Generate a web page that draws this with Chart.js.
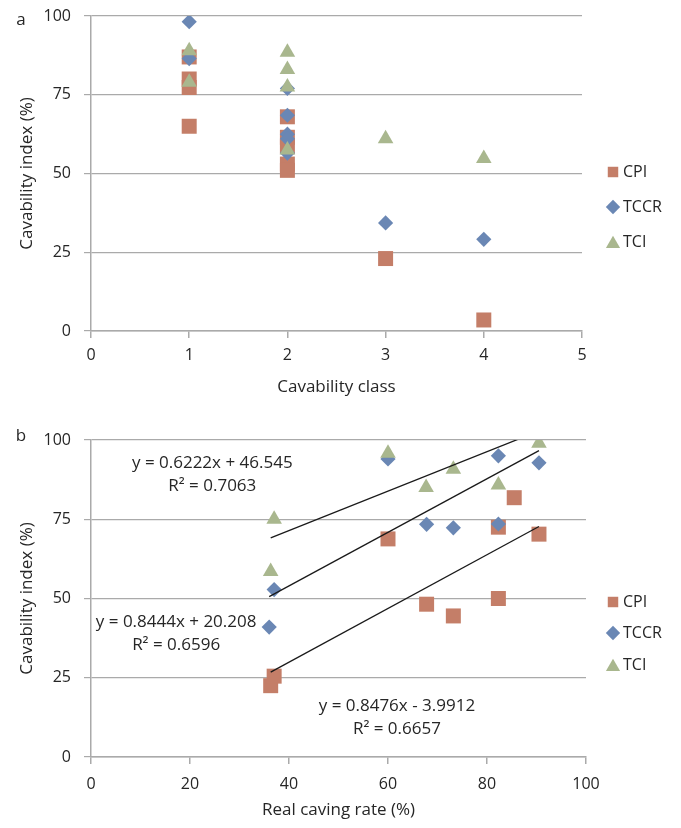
<!DOCTYPE html>
<html>
<head>
<meta charset="utf-8">
<script src="https://cdn.jsdelivr.net/npm/chart.js@4.4.1/dist/chart.umd.min.js"></script>
<style>
  html, body { margin: 0; padding: 0; background: #fff; }
  .panel { position: absolute; left: 0; width: 681px; height: 414px; }
  #panelA { top: 0; }
  #panelB { top: 414px; }
</style>
</head>
<body>
<div class="panel" id="panelA"><canvas id="chartA" width="681" height="414"></canvas></div>
<div class="panel" id="panelB"><canvas id="chartB" width="681" height="414"></canvas></div>
<script>
// series (same order in both panels)
const seriesNames = ['CPI', 'TCCR', 'TCI'];
const seriesColors = ['#c47e68', '#6a87b4', '#a9b78e'];
const seriesMarkers = ['rect', 'rectRot', 'triangle'];

// panel a - cavability class vs cavability index
const classCpiX = [1, 1, 1, 1, 2, 2, 2, 2, 2, 3, 4];
const classCpiY = [87, 80, 77.3, 65, 68, 61.5, 58.5, 53, 51, 23, 3.5];
const classTccrX = [1, 1, 2, 2, 2, 2, 2, 3, 4];
const classTccrY = [98.2, 86.5, 77, 68.5, 62.5, 61, 56.5, 34.3, 29.1];
const classTciX = [1, 1, 2, 2, 2, 2, 3, 4];
const classTciY = [89, 79, 88.5, 83, 77.5, 57.5, 61, 54.8];

// panel b - real caving rate vs cavability index
const rateCpiX = [36.3, 37, 60, 67.8, 73.2, 82.3, 82.3, 85.5, 90.5];
const rateCpiY = [22.5, 25.5, 68.8, 48.2, 44.5, 72.5, 50, 81.8, 70.3];
const rateTccrX = [36, 37, 60, 67.8, 73.2, 82.3, 82.3, 90.5];
const rateTccrY = [41, 52.8, 94, 73.4, 72.3, 95, 73.5, 92.8];
const rateTciX = [36.3, 37, 60, 67.7, 73.2, 82.3, 90.5];
const rateTciY = [58.5, 75, 95.8, 85, 90.8, 85.8, 99];

// linear trendlines shown in panel b (CPI, TCCR, TCI)
const trendSlope = [0.8476, 0.8444, 0.6222];
const trendIntercept = [-3.9912, 20.208, 46.545];
const trendR2 = ['0.6657', '0.6596', '0.7063'];

const yTicksA = [0, 25, 50, 75, 100];
const xTicksA = [0, 1, 2, 3, 4, 5];
const yTicksB = [0, 25, 50, 75, 100];
const xTicksB = [0, 20, 40, 60, 80, 100];

const FONT = "'Open Sans', sans-serif";
const TEXT = '#262626';
const GRID = '#aaaaaa';

function toPoints(xs, ys) {
    return xs.map((x, i) => ({ x: x, y: ys[i] }));
}

function markerSet(i, xs, ys) {
    const radius = [10.6, 7.6, 9][i];
    return {
        label: seriesNames[i],
        data: toPoints(xs, ys),
        pointStyle: seriesMarkers[i],
        pointRadius: radius,
        pointHoverRadius: radius,
        backgroundColor: seriesColors[i],
        borderColor: seriesColors[i],
        pointBorderWidth: 0
    };
}

function trendSet(i, xs) {
    const x0 = Math.min(...xs);
    const x1 = Math.max(...xs);
    const f = (x) => trendSlope[i] * x + trendIntercept[i];
    return {
        label: 'trend ' + seriesNames[i],
        data: [{ x: x0, y: f(x0) }, { x: x1, y: f(x1) }],
        showLine: true,
        pointRadius: 0,
        borderColor: '#1a1a1a',
        borderWidth: 1.3
    };
}

// legend on the right, drawn with the chart's own point styles
const sideLegend = {
    id: 'sideLegend',
    afterDraw(chart, args, opts) {
        const ctx = chart.ctx;
        ctx.save();
        opts.rows.forEach((y, i) => {
            const r = [7.4, 7.2, 8.2][i];
            ctx.fillStyle = seriesColors[i];
            Chart.helpers.drawPoint(ctx, { pointStyle: seriesMarkers[i], radius: r, rotation: 0, borderWidth: 0 }, opts.x, y + (i === 2 ? 2 : 0));
            ctx.fillStyle = TEXT;
            ctx.font = '16px ' + FONT;
            ctx.textBaseline = 'middle';
            ctx.textAlign = 'left';
            ctx.fillText(seriesNames[i], opts.x + 10, y);
        });
        // panel letter
        ctx.font = '17px ' + FONT;
        ctx.textAlign = 'center';
        ctx.fillText(opts.letter, opts.letterX, opts.letterY);
        ctx.restore();
    }
};

// trendline equations, anchored in data units
const eqLabels = {
    id: 'eqLabels',
    afterDraw(chart, args, opts) {
        if (!opts.items) return;
        const ctx = chart.ctx;
        const xs = chart.scales.x, ys = chart.scales.y;
        ctx.save();
        ctx.fillStyle = TEXT;
        ctx.font = '17px ' + FONT;
        ctx.textAlign = 'center';
        ctx.textBaseline = 'middle';
        opts.items.forEach((it) => {
            const i = it.series;
            const b = trendIntercept[i];
            const sign = b < 0 ? ' - ' : ' + ';
            const line1 = 'y = ' + trendSlope[i] + 'x' + sign + Math.abs(b);
            const line2 = 'R\u00b2 = ' + trendR2[i];
            const px = xs.getPixelForValue(it.x);
            const py = ys.getPixelForValue(it.y);
            ctx.fillText(line1, px, py);
            ctx.fillText(line2, px, py + 23);
        });
        ctx.restore();
    }
};

function buildOptions(cfg) {
    return {
        responsive: false,
        animation: false,
        events: [],
        layout: { padding: { left: 0, right: cfg.padRight, top: cfg.padTop, bottom: 0 } },
        plugins: {
            legend: { display: false },
            tooltip: { enabled: false },
            sideLegend: cfg.legend,
            eqLabels: { items: cfg.equations }
        },
        scales: {
            x: {
                type: 'linear',
                min: cfg.xTicks[0],
                max: cfg.xTicks[cfg.xTicks.length - 1],
                afterBuildTicks: (s) => { s.ticks = cfg.xTicks.map(v => ({ value: v })); },
                ticks: { color: TEXT, font: { family: FONT, size: 16 }, padding: cfg.xTickPad, maxRotation: 0 },
                grid: { drawOnChartArea: false, color: GRID, tickLength: 7, lineWidth: 1.5 },
                border: { color: GRID, width: 1.5 },
                title: {
                    display: true, text: cfg.xTitle, color: TEXT,
                    font: { family: FONT, size: 17 },
                    padding: { top: 0, bottom: cfg.xTitlePad }
                },
                afterFit: (s) => { s.height = cfg.xHeight; }
            },
            y: {
                type: 'linear',
                min: cfg.yTicks[0],
                max: cfg.yTicks[cfg.yTicks.length - 1],
                afterBuildTicks: (s) => { s.ticks = cfg.yTicks.map(v => ({ value: v })); },
                ticks: { color: TEXT, font: { family: FONT, size: 16 }, padding: 13 },
                grid: { color: GRID, tickLength: 7, lineWidth: 1.2 },
                border: { color: GRID, width: 1.5 },
                title: {
                    display: true, text: 'Cavability index (%)', color: TEXT,
                    font: { family: FONT, size: 17 },
                    padding: { top: 17, bottom: 0 }
                },
                afterFit: (s) => { s.width = 91; s.paddingTop = 0; s.paddingBottom = 0; }
            }
        }
    };
}

// panel a
new Chart(document.getElementById('chartA'), {
    type: 'scatter',
    data: {
        datasets: [
            markerSet(2, classTciX, classTciY),
            markerSet(1, classTccrX, classTccrY),
            markerSet(0, classCpiX, classCpiY)
        ]
    },
    options: buildOptions({
        padRight: 99, padTop: 16, xHeight: 83, xTitlePad: 17, xTickPad: 8,
        xTicks: xTicksA, yTicks: yTicksA, xTitle: 'Cavability class',
        legend: { x: 613, rows: [172, 207, 242], letter: 'a', letterX: 21, letterY: 20 },
        equations: null
    }),
    plugins: [sideLegend, eqLabels]
});

// panel b
new Chart(document.getElementById('chartB'), {
    type: 'scatter',
    data: {
        datasets: [
            trendSet(2, rateTciX),
            trendSet(1, rateTccrX),
            trendSet(0, rateCpiX),
            markerSet(2, rateTciX, rateTciY),
            markerSet(1, rateTccrX, rateTccrY),
            markerSet(0, rateCpiX, rateCpiY)
        ]
    },
    options: buildOptions({
        padRight: 95, padTop: 26, xHeight: 71, xTitlePad: 8, xTickPad: 11,
        xTicks: xTicksB, yTicks: yTicksB, xTitle: 'Real caving rate (%)',
        legend: { x: 613, rows: [188, 219, 251], letter: 'b', letterX: 21, letterY: 22 },
        equations: [
            { series: 2, x: 24.5, y: 92.8 },
            { series: 1, x: 17.2, y: 42.6 },
            { series: 0, x: 61.8, y: 15.9 }
        ]
    }),
    plugins: [sideLegend, eqLabels]
});
</script>
</body>
</html>
